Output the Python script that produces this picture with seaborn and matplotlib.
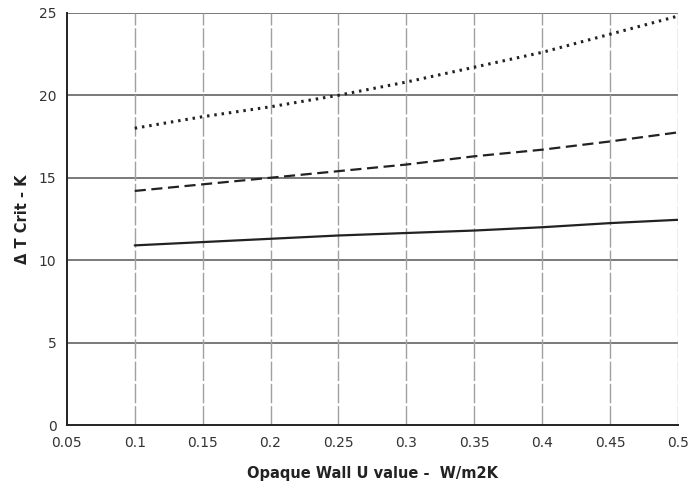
import pandas as pd
import numpy as np
import matplotlib
matplotlib.use("Agg")
import matplotlib.pyplot as plt
import seaborn as sns

# Datos
u_values = [0.1, 0.15, 0.2, 0.25, 0.3, 0.35, 0.4, 0.45, 0.5]
dt_solid = [10.9, 11.1, 11.3, 11.5, 11.65, 11.8, 12.0, 12.25, 12.45]
dt_dashed = [14.2, 14.6, 15.0, 15.4, 15.8, 16.3, 16.7, 17.2, 17.75]
dt_dotted = [18.0, 18.7, 19.3, 20.0, 20.8, 21.7, 22.6, 23.7, 24.8]

x_ticks = [0.05, 0.1, 0.15, 0.2, 0.25, 0.3, 0.35, 0.4, 0.45, 0.5]
x_tick_labels = ["0.05", "0.1", "0.15", "0.2", "0.25", "0.3", "0.35", "0.4", "0.45", "0.5"]
y_ticks = [0, 5, 10, 15, 20, 25]

df = pd.DataFrame({
    "u": u_values * 3,
    "dt": dt_solid + dt_dashed + dt_dotted,
    "serie": ["a"] * 9 + ["b"] * 9 + ["c"] * 9,
})

sns.set_style("white")
plt.rcParams['font.family'] = ['DejaVu Sans']

fig = plt.figure(figsize=(6.89, 4.91), dpi=100)
ax = fig.add_axes([0.097, 0.134, 0.887, 0.84])

# Rejilla
for y in y_ticks[1:]:
    ax.axhline(y, color="#555555", lw=1.1, zorder=1)
for x in x_ticks[1:]:
    ax.axvline(x, color="#a0a0a0", lw=1.0, ls=(0, (14, 2)), zorder=1)

dashes = {"a": "", "b": (5, 2.5), "c": (0.8, 1.6)}
sizes = {"a": 1.6, "b": 1.6, "c": 2.2}
for serie, grupo in df.groupby("serie"):
    sns.lineplot(data=grupo, x="u", y="dt", color="#222222", lw=sizes[serie],
                 dashes=False, legend=False, ax=ax, zorder=3)
    ax.lines[-1].set_dashes(dashes[serie]) if dashes[serie] else None

ax.set_xlim(0.05, 0.5)
ax.set_ylim(0, 25)
ax.set_xticks(x_ticks)
ax.set_xticklabels(x_tick_labels, fontsize=10, color="#333333")
ax.set_yticks(y_ticks)
ax.set_yticklabels([str(v) for v in y_ticks], fontsize=10, color="#333333")
ax.tick_params(direction="inout", length=8, width=1.0, color="#333333")

for side in ["top", "right"]:
    ax.spines[side].set_visible(False)
for side in ["left", "bottom"]:
    ax.spines[side].set_color("#222222")
    ax.spines[side].set_linewidth(1.4)

ax.set_xlabel("Opaque Wall U value -  W/m2K", fontsize=10.5, fontweight="bold",
              color="#222222", labelpad=12)
ax.set_ylabel("\u0394 T Crit - K", fontsize=10.5, fontweight="bold",
              color="#222222", labelpad=6)

fig.savefig("out.png", dpi=100)
